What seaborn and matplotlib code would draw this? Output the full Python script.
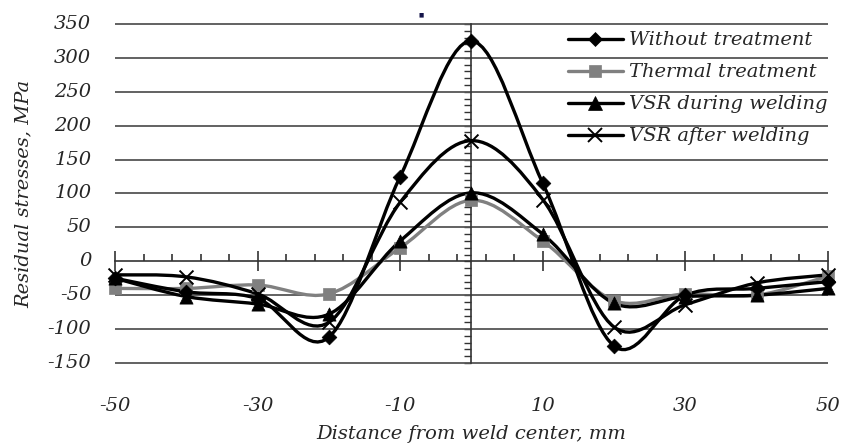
import numpy as np
import pandas as pd
import seaborn as sns
import matplotlib as mpl
import matplotlib.pyplot as plt
import matplotlib.transforms as mtransforms
from matplotlib.path import Path
from matplotlib.patches import PathPatch
from matplotlib.lines import Line2D
from matplotlib.ticker import MultipleLocator, FixedLocator

# data
distance = [-50, -40, -30, -20, -10, 0, 10, 20, 30, 40, 50]
without_treatment = [-25, -45, -55, -112, 125, 325, 115, -125, -50, -40, -30]
thermal_treatment = [-40, -40, -35, -48, 20, 90, 30, -58, -48, -50, -22]
vsr_during = [-25, -52, -63, -78, 30, 101, 40, -62, -52, -50, -40]
vsr_after = [-20, -23, -48, -90, 87, 178, 91, -97, -64, -32, -20]

series_names = ["Without treatment", "Thermal treatment",
                "VSR during welding", "VSR after welding"]
x_ticks = [-50, -30, -10, 10, 30, 50]
y_ticks = [-150, -100, -50, 0, 50, 100, 150, 200, 250, 300, 350]

df = pd.DataFrame({
    "distance": distance * 4,
    "stress": without_treatment + thermal_treatment + vsr_during + vsr_after,
    "series": np.repeat(series_names, len(distance)),
})

sns.set_style("white")
mpl.rcParams["font.family"] = "DejaVu Serif"
mpl.rcParams["font.style"] = "italic"
mpl.rcParams["axes.unicode_minus"] = False

styles = {
    "Without treatment": dict(color="black", marker="D", ms=7.5, lw=2.4),
    "Thermal treatment": dict(color="#808080", marker="s", ms=9, lw=2.4),
    "VSR during welding": dict(color="black", marker="^", ms=9.5, lw=2.4),
    "VSR after welding": dict(color="black", marker="x", ms=10, lw=2.4),
}


def smooth_path(xs, ys):
    # excel-like smoothed line: catmull-rom turned into cubic bezier segments
    pts = np.column_stack([xs, ys]).astype(float)
    n = len(pts)
    verts = [pts[0]]
    codes = [Path.MOVETO]
    for i in range(n - 1):
        p0 = pts[max(i - 1, 0)]
        p1 = pts[i]
        p2 = pts[i + 1]
        p3 = pts[min(i + 2, n - 1)]
        c1 = p1 + (p2 - p0) / 6.0
        c2 = p2 - (p3 - p1) / 6.0
        verts += [c1, c2, p2]
        codes += [Path.CURVE4] * 3
    return Path(verts, codes)


fig = plt.figure(figsize=(8.43, 4.48), dpi=100)
ax = fig.add_axes([0.1364, 0.1875, 0.8458, 0.7589])

draw_order = ["Thermal treatment", "VSR during welding",
              "VSR after welding", "Without treatment"]
for z, name in enumerate(draw_order):
    st = styles[name]
    sub = df[df["series"] == name]
    patch = PathPatch(smooth_path(sub["distance"], sub["stress"]),
                      facecolor="none", edgecolor=st["color"], lw=st["lw"],
                      zorder=3 + z, clip_on=False, capstyle="round")
    ax.add_patch(patch)
    if st["marker"] == "x":
        sns.scatterplot(data=sub, x="distance", y="stress", marker="x",
                        s=st["ms"] ** 2, color=st["color"], linewidth=1.4,
                        ax=ax, zorder=10 + z, clip_on=False, legend=False)
    else:
        sns.scatterplot(data=sub, x="distance", y="stress", marker=st["marker"],
                        s=st["ms"] ** 2, color=st["color"], edgecolor=st["color"],
                        linewidth=0.5, ax=ax, zorder=10 + z, clip_on=False,
                        legend=False)

ax.set_xlim(-50, 50)
ax.set_ylim(-151.5, 350)

# axes cross at the origin
for side in ["top", "right"]:
    ax.spines[side].set_visible(False)
ax.spines["bottom"].set_position(("data", 0))
ax.spines["left"].set_position(("data", 0))
for side in ["bottom", "left"]:
    ax.spines[side].set_color("#333333")
    ax.spines[side].set_linewidth(1.2)
ax.spines["left"].set_bounds(-150, 350)

ax.xaxis.set_major_locator(FixedLocator(x_ticks))
ax.xaxis.set_minor_locator(MultipleLocator(4, offset=-50))
ax.yaxis.set_major_locator(FixedLocator(y_ticks))
ax.yaxis.set_minor_locator(MultipleLocator(10))
ax.tick_params(axis="x", which="major", direction="inout", length=14,
               width=1.2, color="#333333", labelbottom=False, bottom=True)
ax.tick_params(axis="x", which="minor", direction="in", length=5,
               width=1.2, color="#333333", bottom=True)
ax.tick_params(axis="y", which="both", direction="out", length=5,
               width=1, color="#333333", labelleft=False, left=True)
ax.set_xlabel("")
ax.set_ylabel("")
ax.grid(False)

# horizontal gridlines
for v in y_ticks:
    if v != 0:
        ax.plot([-50, 50], [v, v], color="#555555", lw=1.3, zorder=2.5,
                clip_on=False, solid_capstyle="butt")

# tick labels sit at the outer edges of the frame, not on the zero lines
x_lab_tr = mtransforms.blended_transform_factory(ax.transData, ax.transAxes) + \
    mtransforms.ScaledTranslation(0, -24 / 72, fig.dpi_scale_trans)
for v in x_ticks:
    ax.text(v, 0, str(v), transform=x_lab_tr, ha="center", va="top",
            fontsize=14, fontstyle="italic")
y_lab_tr = mtransforms.blended_transform_factory(ax.transAxes, ax.transData) + \
    mtransforms.ScaledTranslation(-17 / 72, 0, fig.dpi_scale_trans)
for v in y_ticks:
    ax.text(0, v, str(v), transform=y_lab_tr, ha="right", va="center",
            fontsize=14, fontstyle="italic")

ax.text(0.5, -0.205, "Distance from weld center, mm", transform=ax.transAxes,
        ha="center", va="center", fontsize=14, fontstyle="italic")
ax.text(-0.128, 0.5, "Residual stresses, MPa", transform=ax.transAxes,
        ha="center", va="center", rotation=90, fontsize=14, fontstyle="italic")

handles = [Line2D([], [], color=styles[n]["color"], marker=styles[n]["marker"],
                  ms=styles[n]["ms"], lw=2.4,
                  mew=1.4 if styles[n]["marker"] == "x" else 0.5)
           for n in series_names]
leg = ax.legend(handles, series_names, loc="upper left",
                bbox_to_anchor=(0.635, 0.978), frameon=False,
                prop={"size": 14, "style": "italic"},
                handlelength=2.85, handletextpad=0.3, labelspacing=0.72,
                borderaxespad=0.0, borderpad=0.0)

# small stray mark above the plot in the original
fig.text(421 / 843, 1 - 15 / 448, "\u25a0", fontsize=4, color="#14144a",
         ha="center", va="center", family="DejaVu Sans", style="normal")

fig.savefig("out.png", dpi=100)
